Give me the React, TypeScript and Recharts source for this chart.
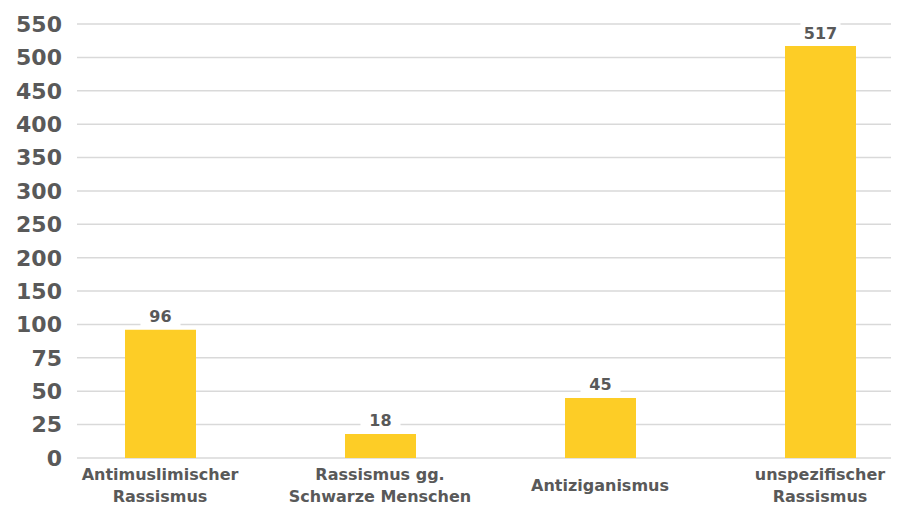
import { Bar, BarChart, CartesianGrid, LabelList, XAxis, YAxis } from "recharts";

const categories = [
  "Antimuslimischer\nRassismus",
  "Rassismus gg.\nSchwarze Menschen",
  "Antiziganismus",
  "unspezifischer\nRassismus",
];
const counts = [96, 18, 45, 517];
// the value axis is stepped: 25 per grid step up to 100, then 50 per step
const yTickLabels = [0, 25, 50, 75, 100, 150, 200, 250, 300, 350, 400, 450, 500, 550];

const FONT = "'DejaVu Sans', sans-serif";
const TEXT = "#595959";
const BAR = "#FDCD26";

// map a count onto the evenly spaced tick index it falls at
function toSlot(value: number): number {
  for (let i = 1; i < yTickLabels.length; i++) {
    const lo = yTickLabels[i - 1];
    const hi = yTickLabels[i];
    if (value <= hi) return i - 1 + (value - lo) / (hi - lo);
  }
  return yTickLabels.length - 1;
}

const data = categories.map((name, i) => ({
  name,
  count: counts[i],
  slot: toSlot(counts[i]),
}));

function CategoryTick({ x, y, payload }: any) {
  const lines = String(payload.value).split("\n");
  const lineHeight = 22;
  const start = 19 - ((lines.length - 1) * lineHeight) / 2;
  return (
    <g transform={`translate(${x},${y})`}>
      {lines.map((line, i) => (
        <text
          key={i}
          x={0}
          y={start + i * lineHeight}
          textAnchor="middle"
          dominantBaseline="central"
          fill={TEXT}
          fontFamily={FONT}
          fontSize={16}
          fontWeight={700}
        >
          {line}
        </text>
      ))}
    </g>
  );
}

function ValueLabel({ x, y, width, value }: any) {
  const cx = x + width / 2;
  const cy = y - 13;
  return (
    <g>
      <rect x={cx - 20} y={cy - 10} width={40} height={20} fill="#ffffff" />
      <text
        x={cx}
        y={cy}
        textAnchor="middle"
        dominantBaseline="central"
        fill={TEXT}
        fontFamily={FONT}
        fontSize={16}
        fontWeight={700}
      >
        {value}
      </text>
    </g>
  );
}

export default function App() {
  return (
    <BarChart
      width={891}
      height={498}
      data={data}
      margin={{ top: 16, right: 0, bottom: 8, left: 0 }}
    >
      <CartesianGrid stroke="#d9d9d9" strokeWidth={1.5} vertical={false} />
      <XAxis
        dataKey="name"
        axisLine={false}
        tickLine={false}
        height={40}
        interval={0}
        padding={{ left: -27, right: -31 }}
        tick={<CategoryTick />}
      />
      <YAxis
        type="number"
        domain={[0, yTickLabels.length - 1]}
        ticks={yTickLabels.map((_, i) => i)}
        tickFormatter={(i: number) => String(yTickLabels[i])}
        axisLine={false}
        tickLine={false}
        tickSize={0}
        tickMargin={15}
        width={69}
        tick={{ fill: TEXT, fontFamily: FONT, fontSize: 22, fontWeight: 700 }}
      />
      <Bar dataKey="slot" fill={BAR} barSize={71} isAnimationActive={false}>
        <LabelList dataKey="count" content={<ValueLabel />} />
      </Bar>
    </BarChart>
  );
}
